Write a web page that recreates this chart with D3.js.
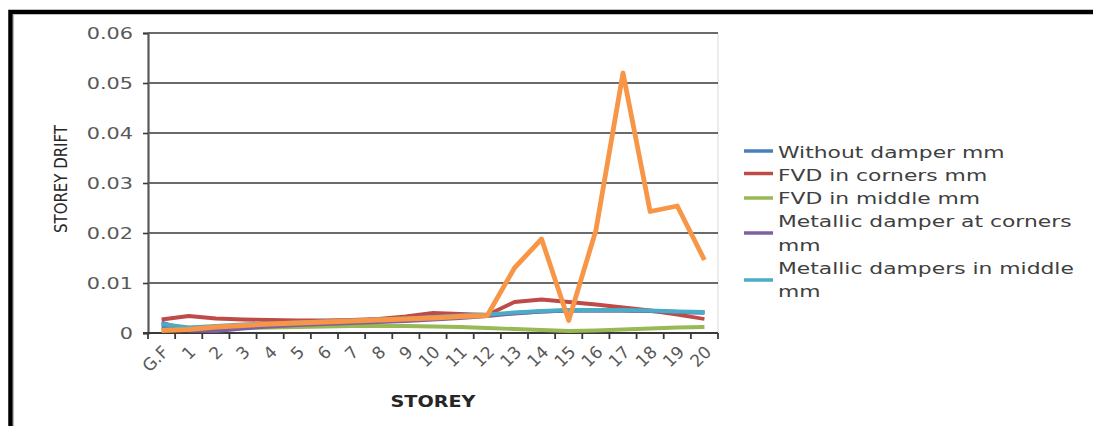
<!DOCTYPE html>
<html>
<head>
<meta charset="utf-8">
<script src="https://cdn.jsdelivr.net/npm/d3@7"></script>
<style>
  html, body { margin: 0; padding: 0; background: #fff; }
  svg { display: block; }
  text { font-family: "DejaVu Sans", sans-serif; }
</style>
</head>
<body>
<svg id="chart" width="1093" height="426"></svg>
<script>
// Storey labels along the x axis
const storeys = ["G.F","1","2","3","4","5","6","7","8","9","10","11","12","13","14","15","16","17","18","19","20"];

// Storey drift per storey for each damper arrangement
const withoutDamper = [0.0012,0.0010,0.0012,0.0014,0.0016,0.0018,0.0020,0.0022,0.0024,0.0027,0.0030,0.0033,0.0036,0.0040,0.0043,0.0045,0.0045,0.0045,0.0044,0.0042,0.0041];
const fvdCorners    = [0.0027,0.0034,0.0029,0.0027,0.0026,0.0025,0.0025,0.0026,0.0028,0.0033,0.0040,0.0038,0.0036,0.0062,0.0067,0.0062,0.0057,0.0051,0.0045,0.0037,0.0028];
const fvdMiddle     = [0.0006,0.0008,0.0009,0.0010,0.0011,0.0012,0.0013,0.0014,0.0014,0.0014,0.0013,0.0012,0.0010,0.0008,0.0006,0.0004,0.0005,0.0007,0.0009,0.0011,0.0012];
const metalCorners  = [0.0021,0.0005,0.0004,0.0009,0.0013,0.0016,0.0018,0.0020,0.0022,0.0024,0.0027,0.0030,0.0034,0.0039,0.0043,0.0045,0.0045,0.0045,0.0044,0.0042,0.0041];
const metalMiddle   = [0.0018,0.0011,0.0014,0.0017,0.0019,0.0021,0.0023,0.0025,0.0027,0.0029,0.0032,0.0035,0.0037,0.0041,0.0044,0.0046,0.0046,0.0046,0.0045,0.0043,0.0042];
const sixthSeries   = [0.0005,0.0007,0.0012,0.0015,0.0018,0.0020,0.0022,0.0024,0.0026,0.0028,0.0030,0.0033,0.0035,0.0130,0.0188,0.0025,0.0205,0.0520,0.0243,0.0254,0.0146];

const yTicks = [0, 0.01, 0.02, 0.03, 0.04, 0.05, 0.06];
const yTickLabels = ["0","0.01","0.02","0.03","0.04","0.05","0.06"];

const legendNames = [
  ["Without damper mm"],
  ["FVD in corners mm"],
  ["FVD in middle mm"],
  ["Metallic damper at corners", "mm"],
  ["Metallic dampers in middle", "mm"]
];

const series = [
  { values: withoutDamper, color: "#4a7ebb", width: 3.8 },
  { values: fvdCorners,    color: "#be4b48", width: 3.8 },
  { values: fvdMiddle,     color: "#98b954", width: 3.8 },
  { values: metalCorners,  color: "#7d60a0", width: 3.8 },
  { values: metalMiddle,   color: "#4bacc6", width: 3.8 },
  { values: sixthSeries,   color: "#f79646", width: 4.8 }
];

const svg = d3.select("#chart");
const plot = { left: 148, right: 718, top: 33, bottom: 333 };

const x = d3.scaleBand().domain(storeys).range([plot.left, plot.right]);
const y = d3.scaleLinear().domain([0, 0.06]).range([plot.bottom, plot.top]);

// Outer frame
svg.append("path")
  .attr("d", `M10.5,426 L10.5,12 L1093,12`)
  .attr("fill", "none").attr("stroke", "#000").attr("stroke-width", 4.5);
svg.append("path")
  .attr("d", `M13.5,426 L13.5,14.5 L1093,14.5`)
  .attr("fill", "none").attr("stroke", "#bdbdbd").attr("stroke-width", 1.2);

// Plot area right border
svg.append("line")
  .attr("x1", plot.right).attr("x2", plot.right)
  .attr("y1", plot.top).attr("y2", plot.bottom)
  .attr("stroke", "#d9d9d9").attr("stroke-width", 1);

// Horizontal gridlines
svg.append("g").selectAll("line")
  .data(yTicks.filter(d => d > 0))
  .join("line")
  .attr("x1", plot.left).attr("x2", plot.right)
  .attr("y1", d => y(d)).attr("y2", d => y(d))
  .attr("stroke", "#3a3a3a").attr("stroke-width", 1.6);

// Y axis
const yAxis = d3.axisLeft(y).tickValues(yTicks).tickSize(5).tickFormat("");
const gy = svg.append("g").attr("transform", `translate(${plot.left},0)`).call(yAxis);
gy.select(".domain").attr("stroke", "#595959").attr("stroke-width", 2.2);
gy.selectAll(".tick line").attr("stroke", "#3a3a3a").attr("stroke-width", 1.6);

yTicks.forEach((v, i) => {
  svg.append("g")
    .attr("transform", `translate(133,${y(v) + 5.8}) scale(1.3,1)`)
    .append("text")
    .attr("text-anchor", "end")
    .attr("font-size", 16)
    .attr("fill", "#595959")
    .text(yTickLabels[i]);
});

// X axis with ticks at band boundaries
const gx = svg.append("g");
gx.append("line")
  .attr("x1", plot.left - 5).attr("x2", plot.right)
  .attr("y1", y(0)).attr("y2", y(0))
  .attr("stroke", "#3a3a3a").attr("stroke-width", 2);
const boundaries = storeys.map(s => x(s)).concat([x(storeys[storeys.length - 1]) + x.bandwidth()]);
gx.selectAll("line.tk")
  .data(boundaries)
  .join("line")
  .attr("class", "tk")
  .attr("x1", d => d).attr("x2", d => d)
  .attr("y1", y(0)).attr("y2", y(0) + 6)
  .attr("stroke", "#3a3a3a").attr("stroke-width", 1.8);

gx.selectAll("text.lbl")
  .data(storeys)
  .join("text")
  .attr("class", "lbl")
  .attr("text-anchor", "end")
  .attr("font-size", 17)
  .attr("fill", "#595959")
  .attr("transform", d => `translate(${x(d) + x.bandwidth() / 2 + 8},${y(0) + 20}) rotate(-45)`)
  .text(d => d);

// Series lines
const line = d3.line()
  .x((d, i) => x(storeys[i]) + x.bandwidth() / 2)
  .y(d => y(d));

svg.append("g").selectAll("path")
  .data(series)
  .join("path")
  .attr("d", s => line(s.values))
  .attr("fill", "none")
  .attr("stroke", s => s.color)
  .attr("stroke-width", s => s.width)
  .attr("stroke-linejoin", "round")
  .attr("stroke-linecap", "butt");

// Axis titles
svg.append("text")
  .attr("transform", `translate(67,179) rotate(-90)`)
  .attr("text-anchor", "middle")
  .attr("font-family", "'Liberation Sans Narrow', 'DejaVu Sans Condensed', sans-serif")
  .attr("font-size", 17)
  .attr("fill", "#262626")
  .attr("textLength", 108)
  .attr("lengthAdjust", "spacingAndGlyphs")
  .text("STOREY DRIFT");

svg.append("g")
  .attr("transform", `translate(433,407) scale(1.2,1)`)
  .append("text")
  .attr("text-anchor", "middle")
  .attr("font-size", 16)
  .attr("font-weight", "bold")
  .attr("fill", "#262626")
  .text("STOREY");

// Legend
const legendMarkerY = [151, 173.5, 198, 233, 280];
const legendTextY = [158, 181, 204, 227, 251, 274, 297];
const legend = svg.append("g");
let lineIdx = 0;
legendNames.forEach((names, i) => {
  legend.append("line")
    .attr("x1", 744).attr("x2", 773)
    .attr("y1", legendMarkerY[i]).attr("y2", legendMarkerY[i])
    .attr("stroke", series[i].color).attr("stroke-width", 3.5);
  names.forEach(n => {
    legend.append("g")
      .attr("transform", `translate(778,${legendTextY[lineIdx]}) scale(1.34,1)`)
      .append("text")
      .attr("font-size", 16.3)
      .attr("fill", "#404040")
      .text(n);
    lineIdx++;
  });
});
</script>
</body>
</html>
